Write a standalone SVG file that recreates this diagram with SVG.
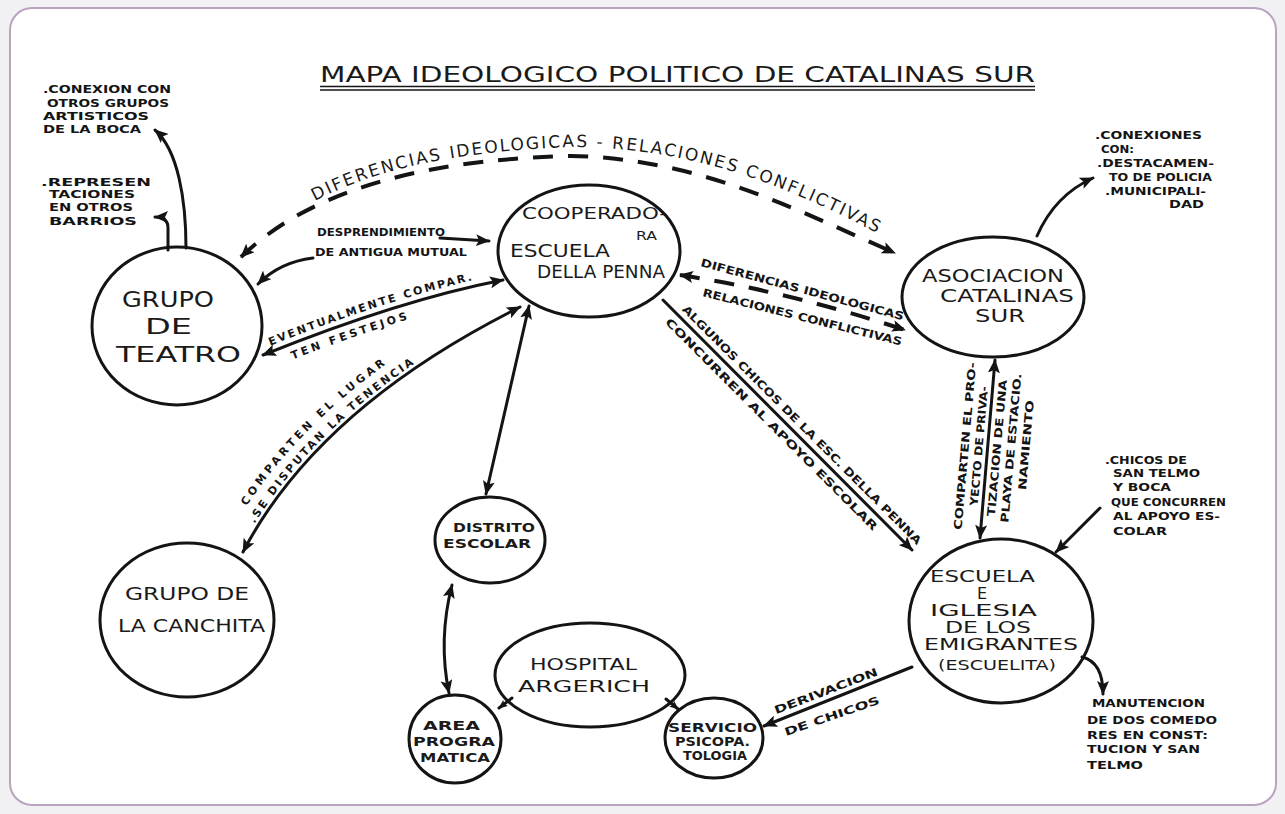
<svg xmlns="http://www.w3.org/2000/svg" width="1285" height="814" viewBox="0 0 1285 814">
<defs>
<style>
.bg{fill:#f1f0f3}
.card{fill:#ffffff;stroke:#b9a4c0;stroke-width:2}
.node{fill:none;stroke:#141414;stroke-width:3}
.nt{font-family:"DejaVu Sans",sans-serif;fill:#1a1a1a}
.lb{font-family:"DejaVu Sans",sans-serif;font-weight:bold;fill:#141414;font-size:11px}
.c{fill:none;stroke:#141414;stroke-width:3;stroke-linecap:round}
.d{stroke-dasharray:20 15;stroke-width:4;stroke-linecap:butt}
.ul{stroke:#141414;stroke-width:1.6}
</style>
<marker id="ah" viewBox="0 0 14 12" refX="13" refY="6" markerWidth="14" markerHeight="12" markerUnits="userSpaceOnUse" orient="auto-start-reverse"><path d="M0,0 L14,6 L0,12 L3,6 z" fill="#141414"/></marker>
<marker id="ahs" viewBox="0 0 14 12" refX="13" refY="6" markerWidth="9" markerHeight="8" markerUnits="userSpaceOnUse" orient="auto-start-reverse"><path d="M0,0 L14,6 L0,12 L3,6 z" fill="#141414"/></marker>
<path id="pArc" d="M308,205 C370,170 450,152 571,147 C700,147 800,192 890,240"/>
<path id="pEv" d="M263,355 Q400,300 503,280"/>
<path id="pComp" d="M243,552 Q318,408 520,307"/>
</defs>

<rect class="bg" x="0" y="0" width="1285" height="814"/>
<rect class="card" x="10" y="8" width="1266" height="797" rx="22"/>

<g id="title">
<text class="nt" x="320" y="82" font-size="21" textLength="715" lengthAdjust="spacingAndGlyphs">MAPA IDEOLOGICO POLITICO DE CATALINAS SUR</text>
<line class="ul" x1="320" y1="86.5" x2="1035" y2="86.5"/>
<line class="ul" x1="320" y1="90" x2="1035" y2="90"/>
</g>

<g id="connectors">
<path class="c" d="M186,248 C186,200 178,150 155,130" marker-end="url(#ah)"/>
<path class="c" d="M168,250 L168,228 Q168,217 155,217" marker-end="url(#ah)"/>
<path class="c d" d="M241,257 C300,200 400,160 571,156 C700,158 800,212 895,253" marker-start="url(#ah)" marker-end="url(#ah)"/>
<path class="c" d="M440,238 L489,241" marker-end="url(#ah)"/>
<path class="c" d="M313,258 Q280,262 258,284" marker-end="url(#ah)"/>
<path class="c" d="M263,355 Q400,300 503,280" marker-start="url(#ah)" marker-end="url(#ah)"/>
<path class="c" d="M243,552 Q318,408 520,307" marker-start="url(#ah)" marker-end="url(#ah)"/>
<path class="c" d="M529,306 Q505,410 486,494" marker-start="url(#ah)" marker-end="url(#ah)"/>
<path class="c" d="M452,585 Q438,640 449,693" marker-start="url(#ah)" marker-end="url(#ah)"/>
<path class="c" d="M512,698 L499,708" marker-end="url(#ahs)"/>
<path class="c" d="M666,699 L678,709" marker-end="url(#ahs)"/>
<path class="c d" d="M680,275 Q790,292 905,330" marker-start="url(#ah)" marker-end="url(#ah)"/>
<path class="c" d="M663,300 L912,550" stroke-width="3.5" marker-end="url(#ah)"/>
<path class="c" d="M995,360 L980,538" marker-start="url(#ah)" marker-end="url(#ah)"/>
<path class="c" d="M1037,236 Q1055,195 1093,178" marker-end="url(#ah)"/>
<path class="c" d="M1100,508 L1056,552" marker-end="url(#ah)"/>
<path class="c" d="M1082,657 Q1103,662 1103,694" marker-end="url(#ah)"/>
<path class="c" d="M912,667 L764,726" marker-end="url(#ah)"/>

<text class="nt" font-size="17" letter-spacing="2"><textPath href="#pArc" startOffset="8">DIFERENCIAS IDEOLOGICAS - RELACIONES CONFLICTIVAS</textPath></text>
<text class="lb" x="317" y="236" textLength="128" lengthAdjust="spacingAndGlyphs">DESPRENDIMIENTO</text>
<text class="lb" x="315" y="256" textLength="152" lengthAdjust="spacingAndGlyphs">DE ANTIGUA MUTUAL</text>
<text class="lb" letter-spacing="2.2"><textPath href="#pEv" startOffset="10"><tspan dy="-6">EVENTUALMENTE COMPAR.</tspan></textPath></text>
<text class="lb" letter-spacing="3.2"><textPath href="#pEv" startOffset="26"><tspan dy="15">TEN FESTEJOS</tspan></textPath></text>
<text class="lb" font-size="11.5" letter-spacing="3.1"><textPath href="#pComp" startOffset="40"><tspan dy="-20">COMPARTEN EL LUGAR</tspan></textPath></text>
<text class="lb" font-size="11.5" letter-spacing="2.4"><textPath href="#pComp" startOffset="30"><tspan dy="-4">.SE DISPUTAN LA TENENCIA</tspan></textPath></text>
<text class="lb" transform="translate(700,266) rotate(15)" textLength="210" lengthAdjust="spacingAndGlyphs">DIFERENCIAS IDEOLOGICAS</text>
<text class="lb" transform="translate(702,296) rotate(14)" textLength="205" lengthAdjust="spacingAndGlyphs">RELACIONES CONFLICTIVAS</text>
<g transform="translate(663,300) rotate(45)">
<text class="lb" font-size="12" x="20" y="-6" textLength="333" lengthAdjust="spacingAndGlyphs">ALGUNOS CHICOS DE LA ESC. DELLA PENNA</text>
<text class="lb" font-size="12" x="17" y="15" textLength="295" lengthAdjust="spacingAndGlyphs">CONCURREN AL APOYO ESCOLAR</text>
</g>
<g class="lb" font-size="10" text-anchor="middle">
<text transform="translate(965,446) rotate(-85)" dy="0.35em" textLength="168" lengthAdjust="spacingAndGlyphs">COMPARTEN EL PRO-</text>
<text transform="translate(979,446) rotate(-85)" dy="0.35em" textLength="120" lengthAdjust="spacingAndGlyphs">YECTO DE PRIVA-</text>
<text transform="translate(997,448) rotate(-85)" dy="0.35em" textLength="137" lengthAdjust="spacingAndGlyphs">TIZACION DE UNA</text>
<text transform="translate(1011,448) rotate(-85)" dy="0.35em" textLength="150" lengthAdjust="spacingAndGlyphs">PLAYA DE ESTACIO.</text>
<text transform="translate(1026,445) rotate(-85)" dy="0.35em" textLength="90" lengthAdjust="spacingAndGlyphs">NAMIENTO</text>
</g>
<text class="lb" text-anchor="middle" transform="translate(826,691) rotate(-21)" dy="0.35em" textLength="110" lengthAdjust="spacingAndGlyphs">DERIVACION</text>
<text class="lb" text-anchor="middle" transform="translate(832,716) rotate(-19)" dy="0.35em" textLength="100" lengthAdjust="spacingAndGlyphs">DE CHICOS</text>
</g>

<g id="note-conexion" class="lb" font-size="11">
<text x="43" y="93" textLength="128" lengthAdjust="spacingAndGlyphs">.CONEXION CON</text>
<text x="47" y="107" textLength="122" lengthAdjust="spacingAndGlyphs">OTROS GRUPOS</text>
<text x="43" y="120" textLength="106" lengthAdjust="spacingAndGlyphs">ARTISTICOS</text>
<text x="43" y="133" textLength="98" lengthAdjust="spacingAndGlyphs">DE LA BOCA</text>
</g>
<g id="note-representaciones" class="lb" font-size="11">
<text x="41" y="186" textLength="110" lengthAdjust="spacingAndGlyphs">.REPRESEN</text>
<text x="49" y="198" textLength="86" lengthAdjust="spacingAndGlyphs">TACIONES</text>
<text x="49" y="211" textLength="84" lengthAdjust="spacingAndGlyphs">EN OTROS</text>
<text x="49" y="225" textLength="88" lengthAdjust="spacingAndGlyphs">BARRIOS</text>
</g>
<g id="note-conexiones" class="lb" font-size="11">
<text x="1095" y="139" textLength="107" lengthAdjust="spacingAndGlyphs">.CONEXIONES</text>
<text x="1101" y="153" textLength="33" lengthAdjust="spacingAndGlyphs">CON:</text>
<text x="1097" y="167" textLength="117" lengthAdjust="spacingAndGlyphs">.DESTACAMEN-</text>
<text x="1109" y="181" textLength="103" lengthAdjust="spacingAndGlyphs">TO DE POLICIA</text>
<text x="1105" y="195" textLength="101" lengthAdjust="spacingAndGlyphs">.MUNICIPALI-</text>
<text x="1169" y="208" textLength="35" lengthAdjust="spacingAndGlyphs">DAD</text>
</g>
<g id="note-chicos" class="lb" font-size="11">
<text x="1105" y="464" textLength="82" lengthAdjust="spacingAndGlyphs">.CHICOS DE</text>
<text x="1113" y="477" textLength="87" lengthAdjust="spacingAndGlyphs">SAN TELMO</text>
<text x="1113" y="491" textLength="58" lengthAdjust="spacingAndGlyphs">Y BOCA</text>
<text x="1111" y="506" textLength="115" lengthAdjust="spacingAndGlyphs">QUE CONCURREN</text>
<text x="1113" y="520" textLength="107" lengthAdjust="spacingAndGlyphs">AL APOYO ES-</text>
<text x="1113" y="535" textLength="54" lengthAdjust="spacingAndGlyphs">COLAR</text>
</g>
<g id="note-manutencion" class="lb" font-size="11">
<text x="1092" y="707" textLength="113" lengthAdjust="spacingAndGlyphs">MANUTENCION</text>
<text x="1087" y="724" textLength="130" lengthAdjust="spacingAndGlyphs">DE DOS COMEDO</text>
<text x="1087" y="739" textLength="121" lengthAdjust="spacingAndGlyphs">RES EN CONST:</text>
<text x="1087" y="753" textLength="113" lengthAdjust="spacingAndGlyphs">TUCION Y SAN</text>
<text x="1087" y="769" textLength="56" lengthAdjust="spacingAndGlyphs">TELMO</text>
</g>

<g id="grupo-teatro">
<ellipse class="node" cx="177" cy="326" rx="85" ry="79"/>
<text class="nt" font-size="22" x="122" y="307" textLength="92" lengthAdjust="spacingAndGlyphs">GRUPO</text>
<text class="nt" font-size="22" x="145" y="334" textLength="47" lengthAdjust="spacingAndGlyphs">DE</text>
<text class="nt" font-size="22" x="116" y="362" textLength="125" lengthAdjust="spacingAndGlyphs">TEATRO</text>
</g>
<g id="cooperadora">
<ellipse class="node" cx="589" cy="251" rx="91" ry="66"/>
<text class="nt" font-size="16" x="522" y="219" textLength="145" lengthAdjust="spacingAndGlyphs">COOPERADO-</text>
<text class="nt" font-size="12" x="636" y="240" textLength="21" lengthAdjust="spacingAndGlyphs">RA</text>
<text class="nt" font-size="17" x="510" y="257" textLength="100" lengthAdjust="spacingAndGlyphs">ESCUELA</text>
<text class="nt" font-size="17" x="537" y="278" textLength="128" lengthAdjust="spacingAndGlyphs">DELLA PENNA</text>
</g>
<g id="asociacion">
<ellipse class="node" cx="993" cy="297" rx="91" ry="60"/>
<text class="nt" font-size="17" x="922" y="282" textLength="142" lengthAdjust="spacingAndGlyphs">ASOCIACION</text>
<text class="nt" font-size="17" x="940" y="302" textLength="134" lengthAdjust="spacingAndGlyphs">CATALINAS</text>
<text class="nt" font-size="17" x="975" y="322" textLength="50" lengthAdjust="spacingAndGlyphs">SUR</text>
</g>
<g id="grupo-canchita">
<ellipse class="node" cx="187" cy="620" rx="87" ry="77"/>
<text class="nt" font-size="18" x="125" y="600" textLength="124" lengthAdjust="spacingAndGlyphs">GRUPO DE</text>
<text class="nt" font-size="18" x="118" y="632" textLength="147" lengthAdjust="spacingAndGlyphs">LA CANCHITA</text>
</g>
<g id="distrito-escolar">
<ellipse class="node" cx="490" cy="540" rx="55" ry="43"/>
<text class="nt" font-size="12" font-weight="bold" x="453" y="532" textLength="82" lengthAdjust="spacingAndGlyphs">DISTRITO</text>
<text class="nt" font-size="12" font-weight="bold" x="443" y="548" textLength="88" lengthAdjust="spacingAndGlyphs">ESCOLAR</text>
</g>
<g id="hospital">
<ellipse class="node" cx="590" cy="675" rx="95" ry="52"/>
<text class="nt" font-size="16" x="530" y="670" textLength="107" lengthAdjust="spacingAndGlyphs">HOSPITAL</text>
<text class="nt" font-size="16" x="518" y="692" textLength="132" lengthAdjust="spacingAndGlyphs">ARGERICH</text>
</g>
<g id="area-programatica">
<ellipse class="node" cx="455" cy="739" rx="46" ry="44"/>
<text class="nt" font-size="12" font-weight="bold" x="423" y="730" textLength="57" lengthAdjust="spacingAndGlyphs">AREA</text>
<text class="nt" font-size="12" font-weight="bold" x="413" y="746" textLength="82" lengthAdjust="spacingAndGlyphs">PROGRA</text>
<text class="nt" font-size="12" font-weight="bold" x="420" y="762" textLength="70" lengthAdjust="spacingAndGlyphs">MATICA</text>
</g>
<g id="servicio">
<ellipse class="node" cx="714" cy="738" rx="49" ry="40"/>
<text class="nt" font-size="11.5" font-weight="bold" x="668" y="732" textLength="89" lengthAdjust="spacingAndGlyphs">SERVICIO</text>
<text class="nt" font-size="11.5" font-weight="bold" x="675" y="746" textLength="75" lengthAdjust="spacingAndGlyphs">PSICOPA.</text>
<text class="nt" font-size="11.5" font-weight="bold" x="683" y="760" textLength="64" lengthAdjust="spacingAndGlyphs">TOLOGIA</text>
</g>
<g id="escuela-emigrantes">
<ellipse class="node" cx="1001" cy="621" rx="92" ry="82"/>
<text class="nt" font-size="16" x="930" y="582" textLength="105" lengthAdjust="spacingAndGlyphs">ESCUELA</text>
<text class="nt" font-size="16" x="977" y="599">E</text>
<text class="nt" font-size="16" x="930" y="616" textLength="107" lengthAdjust="spacingAndGlyphs">IGLESIA</text>
<text class="nt" font-size="16" x="945" y="633" textLength="86" lengthAdjust="spacingAndGlyphs">DE LOS</text>
<text class="nt" font-size="16" x="924" y="650" textLength="154" lengthAdjust="spacingAndGlyphs">EMIGRANTES</text>
<text class="nt" font-size="14" x="938" y="670" textLength="118" lengthAdjust="spacingAndGlyphs">(ESCUELITA)</text>
</g>
</svg>
